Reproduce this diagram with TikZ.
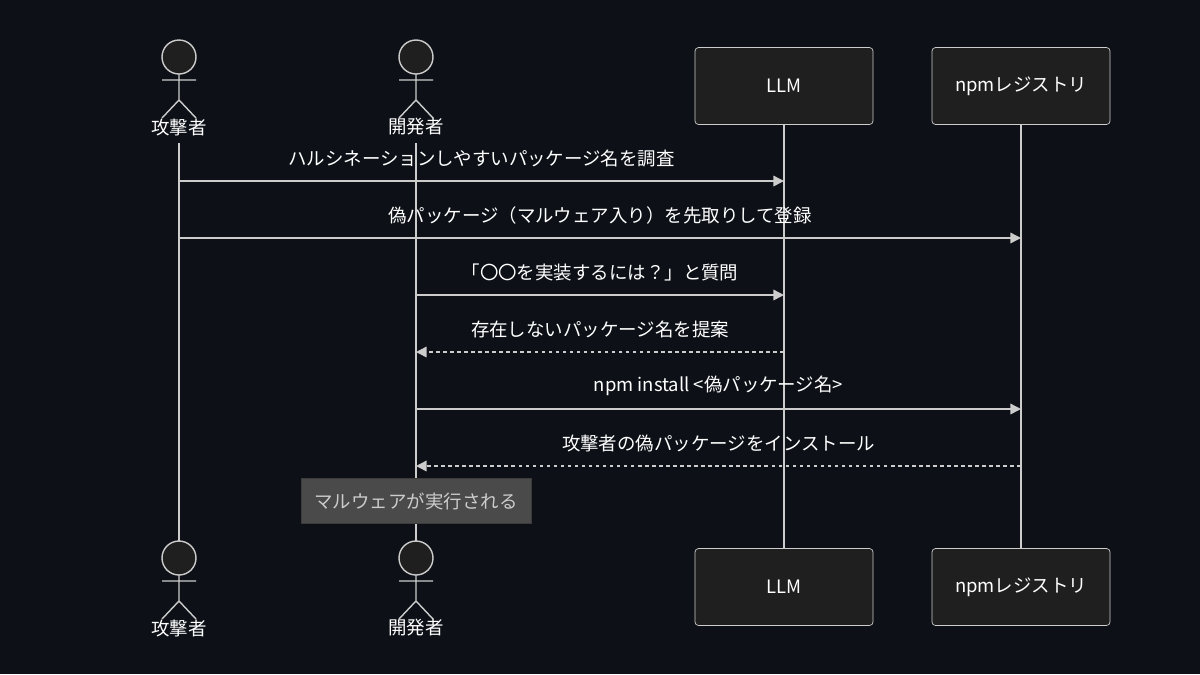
\documentclass[tikz,border=0pt]{standalone}
\usepackage{fontspec}
\setmainfont{Noto Sans CJK JP}
\usetikzlibrary{positioning,arrows.meta}
\definecolor{bg}{HTML}{0D1117}
\definecolor{ln}{HTML}{CCCCCC}
\definecolor{boxfill}{HTML}{1F1F1F}
\definecolor{notefill}{HTML}{4A4A4A}
\tikzset{
	part/.style={draw=ln,fill=boxfill,rounded corners=2pt,minimum width=178*0.02cm,minimum height=77*0.02cm,text=white,font=\fontsize{10.5}{12}\selectfont},
	lbl/.style={text=white,font=\fontsize{10.5}{12}\selectfont},
	msg/.style={draw=ln,line width=0.8pt,-{Triangle[length=6pt,width=6pt]}},
	reply/.style={msg,dash pattern=on 2pt off 2pt},
	life/.style={draw=ln,line width=0.8pt}
}
\newcommand{\stickman}[3]{% x, head y, name
	\draw[ln,line width=0.8pt,fill=boxfill] (#1,#2) circle (17);
	\draw[ln,line width=0.8pt] (#1,#2+17) -- (#1,#2+43)
		(#1-17,#2+23) -- (#1+17,#2+23)
		(#1-17,#2+61) -- (#1,#2+43) -- (#1+17,#2+61);
	\node[lbl] (#3) at (#1,#2+70) {#3};
}
\begin{document}
\begin{tikzpicture}[x=0.02cm,y=-0.02cm]
	\fill[bg] (0,0) rectangle (1200,674);
	% lifelines
	\draw[life] (179,143) -- (179,541);
	\draw[life] (416,143) -- (416,541);
	\draw[life] (784,124) -- (784,548);
	\draw[life] (1021,124) -- (1021,548);
	% participants
	\stickman{179}{57}{攻撃者}
	\stickman{416}{57}{開発者}
	\node[part] (llm) at (784,86) {LLM};
	\node[part] (npm) at (1021,86) {npmレジストリ};
	\stickman{179}{558}{攻撃者}
	\stickman{416}{558}{開発者}
	\node[part] (llmB) at (784,587) {LLM};
	\node[part] (npmB) at (1021,587) {npmレジストリ};
	% messages
	\coordinate (a1) at (179,181); \coordinate (b1) at (784,181);
	\draw[msg] (a1) -- node[lbl,above=4pt] {ハルシネーションしやすいパッケージ名を調査} (b1);
	\coordinate (a2) at (179,238); \coordinate (b2) at (1021,238);
	\draw[msg] (a2) -- node[lbl,above=4pt] {偽パッケージ（マルウェア入り）を先取りして登録} (b2);
	\coordinate (a3) at (416,295); \coordinate (b3) at (784,295);
	\draw[msg] (a3) -- node[lbl,above=4pt] {「〇〇を実装するには？」と質問} (b3);
	\coordinate (a4) at (784,352); \coordinate (b4) at (416,352);
	\draw[reply] (a4) -- node[lbl,above=4pt] {存在しないパッケージ名を提案} (b4);
	\coordinate (a5) at (416,409); \coordinate (b5) at (1021,409);
	\draw[msg] (a5) -- node[lbl,above=4pt] {npm install <偽パッケージ名>} (b5);
	\coordinate (a6) at (1021,466); \coordinate (b6) at (416,466);
	\draw[reply] (a6) -- node[lbl,above=4pt] {攻撃者の偽パッケージをインストール} (b6);
	% note
	\node[fill=notefill,draw=notefill!80!black,minimum width=230*0.02cm,minimum height=45*0.02cm,text=ln,font=\fontsize{10.5}{12}\selectfont] (note) at (416,501) {マルウェアが実行される};
\end{tikzpicture}
\end{document}
